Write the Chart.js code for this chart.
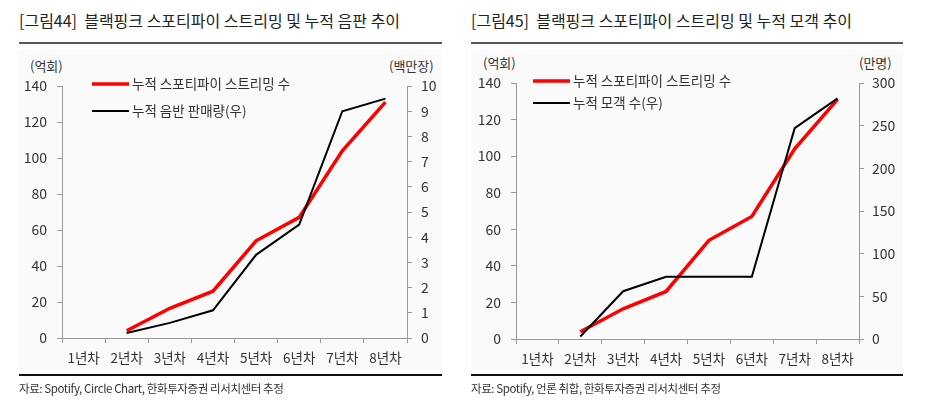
<!DOCTYPE html>
<html>
<head>
<meta charset="utf-8">
<script src="https://cdn.jsdelivr.net/npm/chart.js@4.4.1/dist/chart.umd.min.js"></script>
<style>
  html, body { margin:0; padding:0; background:#fff; }
  #wrap { position:relative; width:936px; height:407px; overflow:hidden; background:#fff;
          font-family:"Noto Sans CJK KR","Noto Sans",sans-serif; color:#222; }
  .abs { position:absolute; white-space:nowrap; }
  .box { background:#fafafa; }
  .title { font-size:16px; line-height:20px; color:#222; letter-spacing:0px; }
  .rule-top { height:2px; background:#595959; }
  .rule-bot { height:1.5px; background:#111; }
  .src { font-size:11.5px; line-height:16px; color:#333; letter-spacing:-0.4px; }
  .unit { font-size:13px; line-height:16px; color:#333; }
  canvas { position:absolute; top:0; }
</style>
</head>
<body>
<div id="wrap">
  <div class="abs box" style="left:19px;top:50px;width:423px;height:320px;"></div>
  <div class="abs box" style="left:471px;top:50px;width:432px;height:320px;"></div>

  <div class="abs title" style="left:19px;top:10px;">[그림44]&nbsp; 블랙핑크 스포티파이 스트리밍 및 누적 음판 추이</div>
  <div class="abs title" style="left:471px;top:10px;">[그림45]&nbsp; 블랙핑크 스포티파이 스트리밍 및 누적 모객 추이</div>
  <div class="abs rule-top" style="left:19px;top:42px;width:423px;"></div>
  <div class="abs rule-top" style="left:471px;top:42px;width:432px;"></div>

  <div class="abs unit" style="left:30px;top:58px;">(억회)</div>
  <div class="abs unit" style="left:389px;top:58px;">(백만장)</div>
  <div class="abs unit" style="left:483px;top:55px;">(억회)</div>
  <div class="abs unit" style="left:859px;top:55px;">(만명)</div>

  <canvas id="c1" width="468" height="407" style="left:0;"></canvas>
  <canvas id="c2" width="468" height="407" style="left:468px;"></canvas>

  <div class="abs rule-bot" style="left:19px;top:374px;width:423px;"></div>
  <div class="abs rule-bot" style="left:471px;top:374px;width:432px;"></div>
  <div class="abs src" style="left:19px;top:380px;">자료: Spotify, Circle Chart, 한화투자증권 리서치센터 추정</div>
  <div class="abs src" style="left:471px;top:380px;">자료: Spotify, 언론 취합, 한화투자증권 리서치센터 추정</div>
</div>
<script>
// ---- data ----
const categories = ['1년차','2년차','3년차','4년차','5년차','6년차','7년차','8년차'];
const spotifyStreams = [null, 4, 16.5, 26, 54, 67, 104, 131];      // 억회 (left axis)
const albumSales     = [null, 0.2, 0.6, 1.1, 3.3, 4.5, 9.0, 9.5];  // 백만장 (right axis)
const concertAudience = [null, 3, 56, 73, 73, 73, 247, 282];      // 만명 (right axis)
const leftTicks   = [0, 20, 40, 60, 80, 100, 120, 140];
const albumTicks  = [0, 1, 2, 3, 4, 5, 6, 7, 8, 9, 10];
const audienceTicks = [0, 50, 100, 150, 200, 250, 300];
const seriesNames1 = ['누적 스포티파이 스트리밍 수', '누적 음반 판매량(우)'];
const seriesNames2 = ['누적 스포티파이 스트리밍 수', '누적 모객 수(우)'];

const FONT = '"Noto Sans CJK KR","Noto Sans",sans-serif';
const AXIS_COLOR = '#9a9a9a';
const TEXT_COLOR = '#333';

const inlineLegend = {
  id: 'inlineLegend',
  afterDraw(chart, args, opts) {
    const ctx = chart.ctx;
    ctx.save();
    chart.data.datasets.forEach((ds, i) => {
      const it = opts.items[i];
      ctx.strokeStyle = ds.borderColor;
      ctx.lineWidth = ds.borderWidth;
      ctx.beginPath();
      ctx.moveTo(it.x, it.y);
      ctx.lineTo(it.x + opts.lineLen, it.y);
      ctx.stroke();
      ctx.fillStyle = TEXT_COLOR;
      ctx.font = '13.5px ' + FONT;
      ctx.textBaseline = 'middle';
      ctx.textAlign = 'left';
      ctx.fillText(ds.label, it.x + opts.lineLen + 3, it.y);
    });
    ctx.restore();
  }
};

function makeChart(id, rightData, rightName, rightTicks, geo, legendItems) {
  const rMin = rightTicks[0], rMax = rightTicks[rightTicks.length - 1];
  return new Chart(document.getElementById(id), {
    type: 'line',
    data: {
      labels: categories,
      datasets: [
        { label: seriesNames1[0], data: spotifyStreams, yAxisID: 'y',
          borderColor: '#ff0000', backgroundColor: '#ff0000', borderWidth: 3.5,
          pointRadius: 0, tension: 0, order: 1, spanGaps: false },
        { label: rightName, data: rightData, yAxisID: 'y1',
          borderColor: '#000000', backgroundColor: '#000000', borderWidth: 2,
          pointRadius: 0, tension: 0, order: 0, spanGaps: false }
      ]
    },
    options: {
      responsive: false,
      animation: false,
      layout: { padding: { top: geo.top, left: 0, right: 0, bottom: 0 } },
      plugins: {
        legend: { display: false },
        tooltip: { enabled: false },
        inlineLegend: { items: legendItems, lineLen: 37 }
      },
      scales: {
        x: {
          type: 'category', offset: true,
          grid: { display: true, offset: true, drawOnChartArea: false, drawTicks: true,
                  tickLength: 5, color: AXIS_COLOR, lineWidth: 1 },
          border: { display: true, color: AXIS_COLOR, width: 1 },
          ticks: { color: TEXT_COLOR, font: { family: FONT, size: 13.5 }, padding: 7,
                   maxRotation: 0, autoSkip: false },
          afterFit: s => { s.height = geo.xH; }
        },
        y: {
          position: 'left', min: leftTicks[0], max: leftTicks[leftTicks.length - 1],
          afterBuildTicks: s => { s.ticks = leftTicks.map(v => ({ value: v })); },
          grid: { display: true, drawOnChartArea: false, drawTicks: true, tickLength: 5,
                  color: AXIS_COLOR },
          border: { display: true, color: AXIS_COLOR, width: 1 },
          ticks: { color: TEXT_COLOR, font: { family: FONT, size: 14 }, padding: geo.lPad },
          afterFit: s => { s.width = geo.leftW; }
        },
        y1: {
          position: 'right', min: rMin, max: rMax,
          afterBuildTicks: s => { s.ticks = rightTicks.map(v => ({ value: v })); },
          grid: { display: true, drawOnChartArea: false, drawTicks: true, tickLength: 5,
                  color: AXIS_COLOR },
          border: { display: true, color: AXIS_COLOR, width: 1 },
          ticks: { color: TEXT_COLOR, font: { family: FONT, size: 14 }, padding: geo.rPad },
          afterFit: s => { s.width = geo.rightW; }
        }
      }
    },
    plugins: [inlineLegend]
  });
}

makeChart('c1', albumSales, seriesNames1[1], albumTicks,
  { top: 86, xH: 69, leftW: 62, rightW: 61, lPad: 10, rPad: 9 },
  [{ x: 92, y: 84 }, { x: 92, y: 111 }]);

makeChart('c2', concertAudience, seriesNames2[1], audienceTicks,
  { top: 83, xH: 68, leftW: 48, rightW: 77, lPad: 10, rPad: 8 },
  [{ x: 65, y: 81 }, { x: 65, y: 103 }]);
</script>
</body>
</html>
